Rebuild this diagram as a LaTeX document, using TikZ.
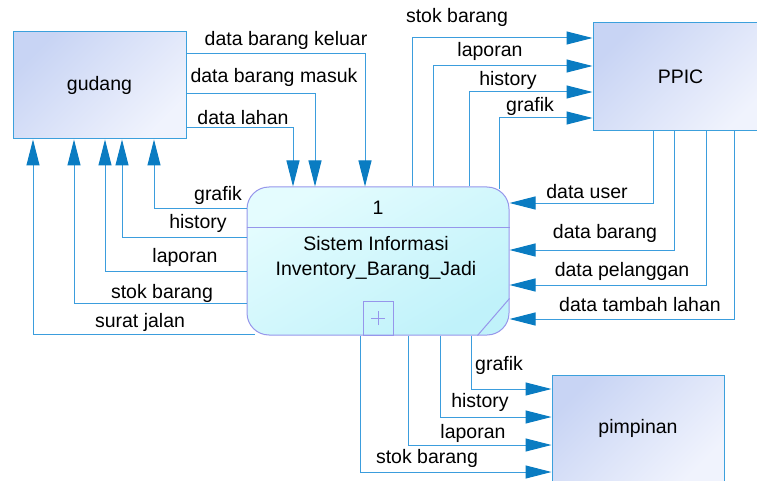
\documentclass[tikz,border=0pt]{standalone}
\usepackage{fontspec}
\setmainfont{Liberation Sans}
\usetikzlibrary{arrows.meta}

\definecolor{flowline}{RGB}{59,157,221}
\definecolor{flowtip} {RGB}{10,124,194}
\definecolor{entline} {RGB}{60,160,220}
\definecolor{enttop}  {RGB}{200,212,244}
\definecolor{entbot}  {RGB}{240,243,253}
\definecolor{procline}{RGB}{150,150,235}
\definecolor{proctop} {RGB}{228,252,254}
\definecolor{procbot} {RGB}{192,242,250}

\tikzset{
  lbl/.style={inner sep=0pt, text=black, font=\fontsize{19.5}{25}\selectfont},
  entity/.style={lbl, draw=entline, line width=1pt, top color=enttop, bottom color=entbot,
    shading angle=45, minimum width=173pt, minimum height=107pt},
  procbox/.style={draw=procline, line width=1pt, rounded corners=22pt, top color=proctop,
    bottom color=procbot, shading angle=30, minimum width=262pt, minimum height=148pt, inner sep=0pt},
  flow/.style={draw=flowline, line width=1pt, arrows={-{Triangle[length=26pt,width=13pt,color=flowtip]}}}
}

\begin{document}
\begin{tikzpicture}[x=1pt,y=-1pt]

    \useasboundingbox (0,0) rectangle (757,481);
    \clip (0,0) rectangle (757,481);

    \node[entity] (gudang) at (99.5,85.5) {gudang};
    \node[entity, minimum width=175pt, minimum height=108pt] (ppic) at (680.5,77) {PPIC};
    \node[entity, minimum width=172pt] (pimpinan) at (638,428.5) {pimpinan};

    \node[procbox] (proc) at (378,261) {};
    \draw[procline, line width=1pt] ([yshift=34pt]proc.west) -- ([yshift=34pt]proc.east);
    \node[draw=procline, line width=1pt, minimum width=30pt, minimum height=34pt, inner sep=0pt,
      anchor=south] (sub) at (proc.south) {};
    \draw[procline, line width=.8pt] ([xshift=-7pt]sub.center) -- ([xshift=7pt]sub.center);
    \draw[procline, line width=.8pt] ([yshift=-7pt]sub.center) -- ([yshift=7pt]sub.center);
    \draw[procline, line width=1pt] ([xshift=-32pt]proc.south east) -- ([yshift=37pt]proc.south east);
    \node[lbl] (num) at (378,208) {1};
    \node[lbl, align=center] (name) at (376,258) {Sistem Informasi\\Inventory\_Barang\_Jadi};

    % gudang -> proses
    \draw[flow] ([yshift=31.5pt]gudang.east) -| ([xshift=-13pt]proc.north);
    \draw[flow] ([yshift=-8.5pt]gudang.east) -| ([xshift=-63pt]proc.north);
    \draw[flow] ([yshift=-42.5pt]gudang.east) -| ([xshift=-85pt]proc.north);

    % proses -> gudang
    \draw[flow] ([yshift=53pt]proc.west) -| ([xshift=54.5pt]gudang.south);
    \draw[flow] ([yshift=24pt]proc.west) -| ([xshift=22.5pt]gudang.south);
    \draw[flow] ([yshift=-10pt]proc.west) -| ([xshift=5.5pt]gudang.south);
    \draw[flow] ([yshift=-42pt]proc.west) -| ([xshift=-25.5pt]gudang.south);
    \draw[flow] ([xshift=8pt,yshift=1pt]proc.south west) -| ([xshift=-66.5pt]gudang.south);

    % proses -> PPIC
    \draw[flow] ([xshift=34pt]proc.north) |- ([yshift=39pt]ppic.west);
    \draw[flow] ([xshift=55pt]proc.north) |- ([yshift=11pt]ppic.west);
    \draw[flow] ([xshift=91pt]proc.north) |- ([yshift=-15pt]ppic.west);
    \draw[flow] ([xshift=121pt,yshift=-3pt]proc.north) |- ([yshift=-41pt]ppic.west);

    % PPIC -> proses
    \draw[flow] ([xshift=-27.5pt]ppic.south) |- ([yshift=58pt]proc.east);
    \draw[flow] ([xshift=-6.5pt]ppic.south) |- ([yshift=11pt]proc.east);
    \draw[flow] ([xshift=25.5pt]ppic.south) |- ([yshift=-24pt]proc.east);
    \draw[flow] ([xshift=53.5pt]ppic.south) |- ([yshift=-58pt]proc.east);

    % proses -> pimpinan
    \draw[flow] ([xshift=93pt]proc.south) |- ([yshift=39.5pt]pimpinan.west);
    \draw[flow] ([xshift=62pt]proc.south) |- ([yshift=11.5pt]pimpinan.west);
    \draw[flow] ([xshift=30pt]proc.south) |- ([yshift=-16.5pt]pimpinan.west);
    \draw[flow] ([xshift=-18pt]proc.south) |- ([yshift=-43.5pt]pimpinan.west);

    % labels
    \node[lbl] (keluar) at (286,40) {data barang keluar};
    \node[lbl] (masuk) at (274,77) {data barang masuk};
    \node[lbl] (lahan) at (243,118) {data lahan};

    \node[lbl] (ggrafik) at (218,195) {grafik};
    \node[lbl] (ghistory) at (198,223) {history};
    \node[lbl] (glaporan) at (185,257) {laporan};
    \node[lbl] (gstok) at (162,293) {stok barang};
    \node[lbl] (surat) at (140,322) {surat jalan};

    \node[lbl] (pstok) at (457,17) {stok barang};
    \node[lbl] (plaporan) at (490,51) {laporan};
    \node[lbl] (phistory) at (508,80) {history};
    \node[lbl] (pgrafik) at (530,106) {grafik};

    \node[lbl] (user) at (587,192) {data user};
    \node[lbl] (barang) at (605,233) {data barang};
    \node[lbl] (pelanggan) at (622,271) {data pelanggan};
    \node[lbl] (tambah) at (640,305) {data tambah lahan};

    \node[lbl] (mgrafik) at (499,365) {grafik};
    \node[lbl] (mhistory) at (480,402) {history};
    \node[lbl] (mlaporan) at (473,433) {laporan};
    \node[lbl] (mstok) at (427,458) {stok barang};

\end{tikzpicture}
\end{document}
